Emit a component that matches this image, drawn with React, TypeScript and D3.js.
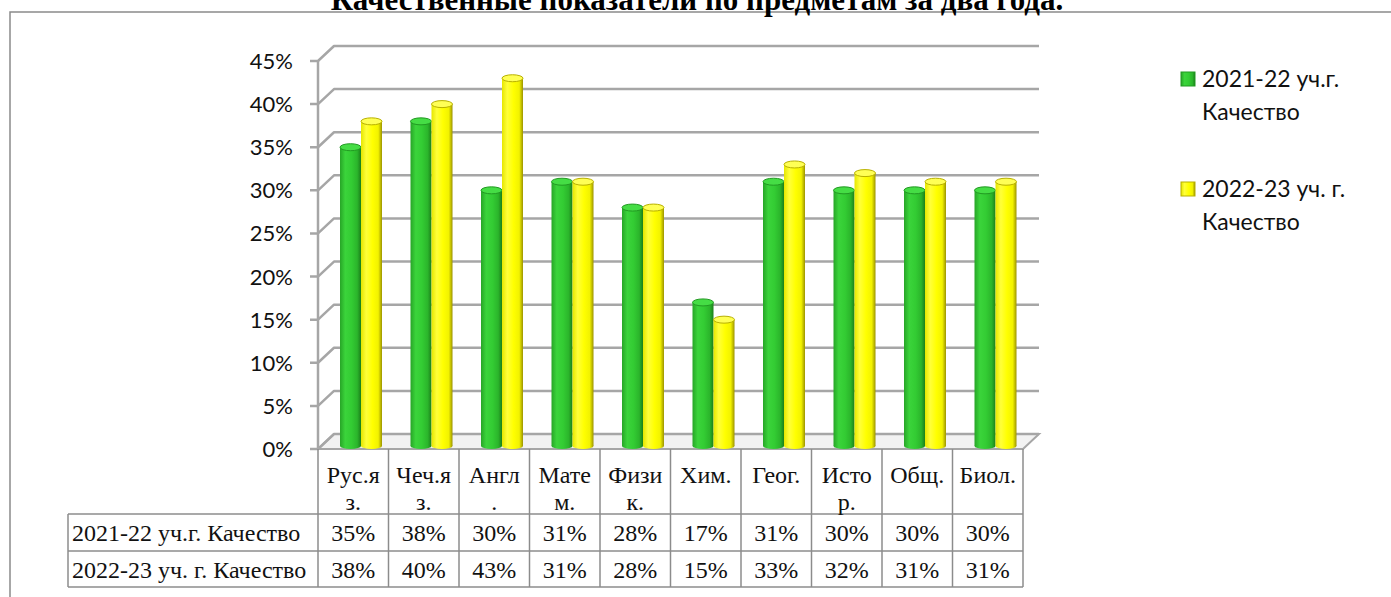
import { useEffect, useRef } from 'react'
import * as d3 from 'd3'

// ─── Data ─────────────────────────────────────────────────────────────────────

const CATEGORIES = ['Рус.яз.', 'Чеч.яз.', 'Англ.', 'Матем.', 'Физик.', 'Хим.', 'Геог.', 'Истор.', 'Общ.', 'Биол.']
// header cells wrap like the original table
const CATEGORY_LINES = [
  ['Рус.я', 'з.'], ['Чеч.я', 'з.'], ['Англ', '.'], ['Мате', 'м.'], ['Физи', 'к.'],
  ['Хим.'], ['Геог.'], ['Исто', 'р.'], ['Общ.'], ['Биол.'],
]
const SERIES = ['2021-22 уч.г. Качество', '2022-23 уч. г. Качество']
const LEGEND_LINES = [['2021-22 уч.г.', 'Качество'], ['2022-23 уч. г.', 'Качество']]
const VALUES_2122 = [0.35, 0.38, 0.30, 0.31, 0.28, 0.17, 0.31, 0.30, 0.30, 0.30]
const VALUES_2223 = [0.38, 0.40, 0.43, 0.31, 0.28, 0.15, 0.33, 0.32, 0.31, 0.31]
const Y_TICKS = [0, 0.05, 0.1, 0.15, 0.2, 0.25, 0.3, 0.35, 0.4, 0.45]
const TITLE = 'Качественные показатели по предметам за два года.'

// ─── Layout ───────────────────────────────────────────────────────────────────

const W = 1391
const H = 597
const PLOT = { left: 318, right: 1023, top: 61, bottom: 449 }
const DEPTH = { dx: 16, dy: -15 }
const GRID = '#a6a6a6'
const TABLE_LINE = '#8c8c8c'
const ROWS = [514, 551, 587]
const TABLE_LEFT = 68

const SERIES_STYLE = [
  { stops: ['#27a527', '#3bd43b', '#33cc33', '#2bb52b', '#1b7f1b'], cap: '#45dd45', rim: '#229a22' },
  { stops: ['#e6e600', '#ffff3a', '#ffff00', '#f2f200', '#9c9400'], cap: '#ffff55', rim: '#b8b000' },
]

export default function App() {
  const svgRef = useRef<SVGSVGElement>(null)

  useEffect(() => {
    if (!svgRef.current) return
    const svg = d3.select(svgRef.current)
    svg.selectAll('*').remove()

    const y = d3.scaleLinear().domain([0, 0.45]).range([PLOT.bottom, PLOT.top])
    const x = d3.scaleBand<string>().domain(CATEGORIES).range([PLOT.left, PLOT.right])
    const inner = d3.scaleBand<string>().domain(SERIES).range([22, 64])

    const defs = svg.append('defs')
    SERIES_STYLE.forEach((s, i) => {
      const lg = defs.append('linearGradient').attr('id', `cyl${i}`)
        .attr('x1', 0).attr('x2', 1).attr('y1', 0).attr('y2', 0)
      const offs = [0, 0.25, 0.55, 0.82, 1]
      s.stops.forEach((c, k) => lg.append('stop').attr('offset', offs[k]).attr('stop-color', c))
    })

    // Frame + title
    svg.append('rect')
      .attr('x', 10).attr('y', 12).attr('width', W).attr('height', H)
      .attr('fill', 'none').attr('stroke', '#8a8a8a').attr('stroke-width', 1.5)

    svg.append('text')
      .attr('x', 697).attr('y', 10)
      .attr('text-anchor', 'middle')
      .attr('font-family', '"Liberation Serif", "Times New Roman", serif')
      .attr('font-weight', 'bold').attr('font-size', 31)
      .text(TITLE)

    const g = svg.append('g')

    // Floor
    const floor = [
      [PLOT.left, PLOT.bottom], [PLOT.right, PLOT.bottom],
      [PLOT.right + DEPTH.dx, PLOT.bottom + DEPTH.dy], [PLOT.left + DEPTH.dx, PLOT.bottom + DEPTH.dy],
    ]
    g.append('path')
      .attr('d', `M${floor.map((p) => p.join(',')).join('L')}Z`)
      .attr('fill', '#f2f2f2').attr('stroke', GRID).attr('stroke-width', 2)

    // Gridlines along left wall and back wall
    Y_TICKS.forEach((t) => {
      const yy = y(t)
      g.append('path')
        .attr('d', `M${PLOT.left - 8},${yy}L${PLOT.left},${yy}L${PLOT.left + DEPTH.dx},${yy + DEPTH.dy}L${PLOT.right + DEPTH.dx},${yy + DEPTH.dy}`)
        .attr('fill', 'none').attr('stroke', GRID).attr('stroke-width', 2.5)
        .attr('stroke-linejoin', 'round')
    })
    g.append('line')
      .attr('x1', PLOT.left).attr('x2', PLOT.left)
      .attr('y1', PLOT.top).attr('y2', PLOT.bottom)
      .attr('stroke', GRID).attr('stroke-width', 2.5)

    // Y tick labels
    g.append('g').selectAll('text').data(Y_TICKS).join('text')
      .attr('x', 293).attr('y', (d) => y(d) + 8)
      .attr('text-anchor', 'end')
      .attr('font-family', 'Lato, "Open Sans", sans-serif')
      .attr('font-size', 22).attr('fill', '#111')
      .text((d) => `${Math.round(d * 100)}%`)

    // Cylinders
    const seriesValues = [VALUES_2122, VALUES_2223]
    const shiftY = -3
    const barW = inner.bandwidth()
    seriesValues.forEach((vals, si) => {
      const style = SERIES_STYLE[si]
      const bars = g.append('g')
      vals.forEach((v, ci) => {
        const bx = (x(CATEGORIES[ci]) ?? 0) + (inner(SERIES[si]) ?? 0)
        const top = y(v) + shiftY + 3
        const bottom = y(0) + shiftY
        const cx = bx + barW / 2
        bars.append('ellipse')
          .attr('cx', cx).attr('cy', bottom).attr('rx', barW / 2).attr('ry', 3)
          .attr('fill', `url(#cyl${si})`)
        bars.append('rect')
          .attr('x', bx).attr('y', top).attr('width', barW).attr('height', bottom - top)
          .attr('fill', `url(#cyl${si})`)
        bars.append('ellipse')
          .attr('cx', cx).attr('cy', top).attr('rx', barW / 2).attr('ry', 3.5)
          .attr('fill', style.cap).attr('stroke', style.rim).attr('stroke-width', 1)
      })
    })

    // Data table
    const tbl = svg.append('g')
      .attr('stroke', TABLE_LINE).attr('stroke-width', 1.5)
    const bounds = [...CATEGORIES.map((c) => x(c) ?? 0), PLOT.right]
    bounds.forEach((bx) => {
      tbl.append('line').attr('x1', bx).attr('x2', bx).attr('y1', PLOT.bottom).attr('y2', ROWS[2])
    })
    tbl.append('line').attr('x1', TABLE_LEFT).attr('x2', TABLE_LEFT).attr('y1', ROWS[0]).attr('y2', ROWS[2])
    ROWS.forEach((ry) => {
      tbl.append('line').attr('x1', TABLE_LEFT).attr('x2', PLOT.right).attr('y1', ry).attr('y2', ry)
    })

    const serif = '"Liberation Serif", "Times New Roman", serif'
    const txt = svg.append('g')
      .attr('font-family', serif).attr('font-size', 24).attr('fill', '#111')

    CATEGORY_LINES.forEach((lines, ci) => {
      const cx = (x(CATEGORIES[ci]) ?? 0) + x.bandwidth() / 2
      lines.forEach((ln, li) => {
        txt.append('text').attr('x', cx).attr('y', 483 + li * 27)
          .attr('text-anchor', 'middle').text(ln)
      })
    })

    const rowBase = [541, 578]
    seriesValues.forEach((vals, si) => {
      txt.append('text').attr('x', TABLE_LEFT + 4).attr('y', rowBase[si]).text(SERIES[si])
      vals.forEach((v, ci) => {
        txt.append('text')
          .attr('x', (x(CATEGORIES[ci]) ?? 0) + x.bandwidth() / 2).attr('y', rowBase[si])
          .attr('text-anchor', 'middle').text(`${Math.round(v * 100)}%`)
      })
    })

    // Legend
    const leg = svg.append('g')
      .attr('font-family', 'Lato, "Open Sans", sans-serif').attr('font-size', 23).attr('fill', '#111')
    const legY = [72, 182]
    LEGEND_LINES.forEach((lines, si) => {
      leg.append('rect')
        .attr('x', 1181).attr('y', legY[si]).attr('width', 14).attr('height', 14)
        .attr('fill', `url(#cyl${si})`).attr('stroke', SERIES_STYLE[si].rim).attr('stroke-width', 1)
      lines.forEach((ln, li) => {
        leg.append('text').attr('x', 1202).attr('y', legY[si] + 15 + li * 33).text(ln)
      })
    })
  }, [])

  return (
    <svg
      ref={svgRef}
      width={W}
      height={H}
      style={{ position: 'absolute', left: 0, top: 0, background: '#fff' }}
    />
  )
}
